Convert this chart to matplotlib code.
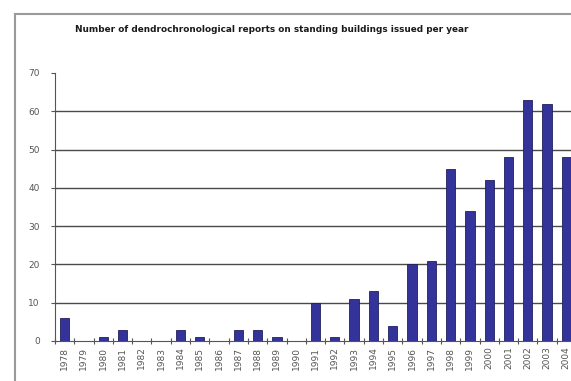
import matplotlib
matplotlib.use("Agg")
import matplotlib.pyplot as plt
from matplotlib.lines import Line2D
import numpy as np

# data
years = [str(y) for y in range(1978, 2005)]
reports = [6, 0, 1, 3, 0, 0, 3, 1, 0, 3, 3, 1, 0, 10, 1, 11, 13, 4,
           20, 21, 45, 34, 42, 48, 63, 62, 48]
y_ticks = [0, 10, 20, 30, 40, 50, 60, 70]
title = "Number of dendrochronological reports on standing buildings issued per year"

fig = plt.figure(figsize=(5.71, 3.81), dpi=100)

# outer chart frame (grey border, cropped on right/bottom)
fig.add_artist(Line2D([15 / 571, 15 / 571], [0, 1 - 14 / 381],
                      transform=fig.transFigure, color="#9a9a9a", lw=1.5))
fig.add_artist(Line2D([15 / 571, 1], [1 - 14 / 381, 1 - 14 / 381],
                      transform=fig.transFigure, color="#9a9a9a", lw=1.5))

ax = fig.add_axes([55 / 571, 1 - 341 / 381, 521 / 571, 268 / 381])

x = np.arange(len(years))
ax.bar(x, reports, width=0.48, color="#333399", edgecolor="#20205e", linewidth=0.6, zorder=3)

ax.set_xlim(-0.5, len(years) - 0.5)
ax.set_ylim(0, 70)

# horizontal gridlines (no line at the top)
for v in y_ticks[1:-1]:
    ax.axhline(v, color="#4a4a4a", lw=1.0, zorder=1)

ax.set_yticks(y_ticks)
ax.set_yticklabels([str(v) for v in y_ticks], fontsize=6.5, color="#555555")
ax.tick_params(axis="y", direction="out", length=3, width=0.8, color="#555555", pad=8)

ax.set_xticks(x)
ax.set_xticklabels(years, rotation=90, fontsize=6.5, color="#555555")
ax.tick_params(axis="x", which="major", length=0, pad=4)
ax.set_xticks(np.arange(-0.5, len(years), 1), minor=True)
ax.tick_params(axis="x", which="minor", direction="inout", length=4, width=0.8, color="#555555")

for s in ["top", "right"]:
    ax.spines[s].set_visible(False)
ax.spines["left"].set_color("#555555")
ax.spines["bottom"].set_color("#555555")
ax.spines["left"].set_linewidth(0.8)
ax.spines["bottom"].set_linewidth(0.8)

fig.text(272 / 571, 1 - 29 / 381, title, ha="center", va="center",
         fontsize=6.4, fontweight="bold", color="#1a1a1a")

fig.savefig("out.png", dpi=100)
